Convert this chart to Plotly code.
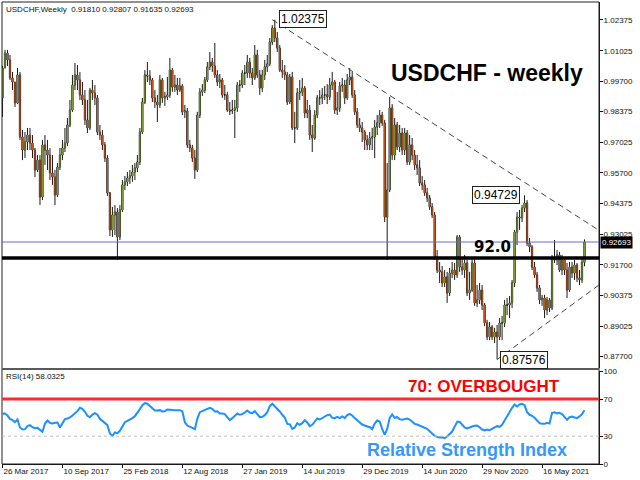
import pandas as pd
import plotly.graph_objects as go

# ---------------- data (weekly USDCHF) ----------------
first_open = 0.9897

close = [
    1.0027, 1.0092, 1.0062, 0.9984, 0.9966, 0.9875, 0.9997, 0.9727, 0.9670, 0.9705,
    0.9735, 0.9700, 0.9670, 0.9583, 0.9626, 0.9465, 0.9692, 0.9670, 0.9648, 0.9570,
    0.9552, 0.9474, 0.9596, 0.9648, 0.9679, 0.9700, 0.9779, 0.9844, 0.9953, 0.9997,
    0.9975, 0.9910, 0.9888, 0.9801, 0.9766, 0.9931, 0.9918, 0.9897, 0.9748, 0.9735,
    0.9692, 0.9635, 0.9483, 0.9322, 0.9387, 0.9400, 0.9291, 0.9409, 0.9518,
    0.9531, 0.9548, 0.9557, 0.9574, 0.9592, 0.9618, 0.9748, 0.9879, 0.9997, 0.9992,
    0.9975, 0.9897, 0.9879, 0.9866, 0.9975, 0.9897, 0.9901, 0.9910, 1.0018, 0.9944,
    0.9953, 0.9931, 0.9949, 0.9836, 0.9840, 0.9692, 0.9679, 0.9635, 0.9583, 0.9822,
    0.9923, 0.9931, 0.9975, 1.0032, 1.0053, 1.0036, 0.9997, 0.9966, 0.9975, 0.9910,
    0.9910, 0.9844, 0.9840, 0.9844, 0.9853, 0.9953, 0.9953, 1.0005,
    1.0005, 1.0053, 1.0005, 0.9984, 1.0084, 0.9997, 0.9940, 0.9997, 1.0032, 1.0045,
    1.0140, 1.0201, 1.0158, 1.0114, 1.0018, 1.0010, 0.9997, 0.9879, 0.9988, 0.9766,
    0.9766, 0.9918, 0.9923, 0.9940, 0.9831, 0.9844, 0.9735, 0.9722, 0.9822, 0.9897,
    0.9897, 0.9910, 0.9910, 0.9901, 0.9953, 0.9966, 0.9844, 0.9853, 0.9949, 0.9953,
    0.9897, 0.9975, 0.9988, 0.9910, 0.9836, 0.9779, 0.9766,
    0.9748, 0.9714, 0.9692, 0.9722, 0.9727, 0.9770, 0.9788, 0.9822, 0.9788, 0.9378,
    0.9496, 0.9853, 0.9648, 0.9779, 0.9683, 0.9744, 0.9670, 0.9744, 0.9618, 0.9692,
    0.9648, 0.9605, 0.9592, 0.9526, 0.9518, 0.9483, 0.9461, 0.9422, 0.9387, 0.9204,
    0.9147, 0.9139, 0.9091, 0.9117, 0.9047, 0.9134, 0.9147, 0.9126, 0.9291, 0.9160,
    0.9147, 0.9178, 0.9047, 0.9060, 0.9178, 0.9004, 0.9017, 0.9060, 0.8995,
    0.8917, 0.8856, 0.8899, 0.8856, 0.8877, 0.8856, 0.8917, 0.8917, 0.8995, 0.8995,
    0.9004, 0.9091, 0.9313, 0.9378, 0.9374, 0.9417, 0.9439, 0.9265, 0.9248, 0.9160,
    0.9126, 0.9069, 0.9017, 0.9025, 0.8973, 0.9017, 0.8982, 0.9200, 0.9191, 0.9213,
    0.9147, 0.9191, 0.9147, 0.9060, 0.9160, 0.9134, 0.9169, 0.9113, 0.9104, 0.9181,
    0.92693,
]

high = [
    1.0036, 1.0106, 1.0106, 1.0084, 1.0010, 0.9966, 1.0027, 1.0010, 0.9757, 0.9748,
    0.9766, 0.9766, 0.9735, 0.9679, 0.9648, 0.9648, 0.9714, 0.9735, 0.9714, 0.9679,
    0.9648, 0.9583, 0.9613, 0.9679, 0.9714, 0.9766, 0.9809, 0.9888, 0.9997, 1.0049,
    1.0040, 1.0010, 0.9966, 0.9931, 0.9888, 0.9940, 0.9975, 0.9953, 0.9910, 0.9779,
    0.9757, 0.9705, 0.9648, 0.9487, 0.9422, 0.9430, 0.9417, 0.9430, 0.9539,
    0.9557, 0.9574, 0.9583, 0.9605, 0.9613, 0.9648, 0.9766, 0.9897, 1.0018, 1.0053,
    1.0018, 0.9984, 0.9931, 0.9910, 0.9997, 0.9984, 0.9923, 0.9988, 1.0071, 1.0027,
    0.9997, 0.9984, 0.9984, 0.9957, 0.9866, 0.9853, 0.9714, 0.9692, 0.9670, 0.9836,
    0.9940, 0.9957, 0.9988, 1.0053, 1.0097, 1.0071, 1.0136, 1.0018, 1.0001, 0.9984,
    0.9953, 0.9923, 0.9879, 0.9888, 0.9888, 0.9966, 0.9975, 1.0018,
    1.0040, 1.0084, 1.0071, 1.0027, 1.0127, 1.0106, 1.0018, 1.0018, 1.0062, 1.0084,
    1.0158, 1.0214, 1.02375, 1.0184, 1.0127, 1.0062, 1.0040, 1.0010, 1.0001, 1.0010,
    0.9836, 0.9940, 0.9975, 0.9984, 0.9949, 0.9888, 0.9866, 0.9779, 0.9844, 0.9910,
    0.9931, 0.9940, 0.9949, 0.9957, 0.9984, 1.0010, 0.9975, 0.9923, 0.9966, 0.9984,
    0.9975, 1.0001, 1.0027, 1.0010, 0.9931, 0.9853, 0.9809,
    0.9792, 0.9757, 0.9735, 0.9748, 0.9766, 0.9801, 0.9822, 0.9844, 0.9836, 0.9801,
    0.9613, 0.9901, 0.9870, 0.9809, 0.9792, 0.9779, 0.9766, 0.9766, 0.9757, 0.9735,
    0.9722, 0.9670, 0.9648, 0.9626, 0.9557, 0.9539, 0.9505, 0.9474, 0.9439, 0.9400,
    0.9234, 0.9182, 0.9165, 0.9147, 0.9139, 0.9156, 0.9182, 0.9178, 0.9300, 0.9300,
    0.9204, 0.9213, 0.9200, 0.9139, 0.9204, 0.9200, 0.9082, 0.9091, 0.9082,
    0.9004, 0.8930, 0.8921, 0.8908, 0.8895, 0.8908, 0.8938, 0.8947, 0.9017, 0.9025,
    0.9034, 0.9104, 0.9322, 0.9400, 0.9409, 0.9430, 0.94729, 0.9452, 0.9287, 0.9256,
    0.9182, 0.9139, 0.9082, 0.9039, 0.9039, 0.9030, 0.9025, 0.9213, 0.9278, 0.9234,
    0.9226, 0.9213, 0.9200, 0.9178, 0.9182, 0.9182, 0.9191, 0.9178, 0.9147, 0.9200,
    0.92807,
]

low = [
    0.9814, 1.0027, 1.0036, 0.9975, 0.9931, 0.9857, 0.9870, 0.9714, 0.9626, 0.9635,
    0.9670, 0.9670, 0.9635, 0.9552, 0.9574, 0.9430, 0.9452, 0.9605, 0.9583, 0.9539,
    0.9518, 0.9430, 0.9465, 0.9583, 0.9626, 0.9661, 0.9687, 0.9770, 0.9836, 0.9931,
    0.9931, 0.9888, 0.9866, 0.9779, 0.9744, 0.9757, 0.9888, 0.9866, 0.9735, 0.9714,
    0.9670, 0.9618, 0.9470, 0.9295, 0.9291, 0.9300, 0.9191, 0.9278, 0.9400,
    0.9496, 0.9513, 0.9522, 0.9531, 0.9539, 0.9574, 0.9605, 0.9740, 0.9870, 0.9966,
    0.9953, 0.9879, 0.9853, 0.9792, 0.9853, 0.9875, 0.9862, 0.9888, 0.9897, 0.9923,
    0.9923, 0.9910, 0.9923, 0.9822, 0.9809, 0.9679, 0.9661, 0.9618, 0.9544, 0.9574,
    0.9809, 0.9905, 0.9918, 0.9966, 1.0018, 1.0010, 0.9984, 0.9949, 0.9940, 0.9897,
    0.9888, 0.9836, 0.9822, 0.9827, 0.9722, 0.9836, 0.9923, 0.9940,
    0.9953, 0.9984, 0.9984, 0.9953, 0.9975, 0.9984, 0.9910, 0.9923, 0.9975, 1.0010,
    1.0036, 1.0127, 1.0140, 1.0097, 1.0010, 0.9984, 0.9975, 0.9866, 0.9870, 0.9757,
    0.9700, 0.9757, 0.9888, 0.9905, 0.9809, 0.9809, 0.9714, 0.9661, 0.9714, 0.9809,
    0.9866, 0.9870, 0.9888, 0.9870, 0.9888, 0.9931, 0.9827, 0.9822, 0.9836, 0.9923,
    0.9870, 0.9888, 0.9953, 0.9897, 0.9822, 0.9766, 0.9748,
    0.9705, 0.9670, 0.9670, 0.9670, 0.9670, 0.9635, 0.9735, 0.9766, 0.9775, 0.9356,
    0.9191, 0.9487, 0.9626, 0.9626, 0.9670, 0.9661, 0.9648, 0.9648, 0.9605, 0.9605,
    0.9626, 0.9583, 0.9561, 0.9513, 0.9496, 0.9470, 0.9444, 0.9409, 0.9374, 0.9191,
    0.9134, 0.9091, 0.9073, 0.9073, 0.9004, 0.9034, 0.9113, 0.9104, 0.9113, 0.9139,
    0.9126, 0.9113, 0.9034, 0.9017, 0.9052, 0.8991, 0.8986, 0.8999, 0.8973,
    0.8903, 0.8842, 0.8842, 0.8842, 0.8829, 0.87576, 0.8842, 0.8842, 0.8899, 0.8951,
    0.8938, 0.8982, 0.9073, 0.9256, 0.9322, 0.9356, 0.9400, 0.9252, 0.9226, 0.9147,
    0.9113, 0.9052, 0.8999, 0.8991, 0.8938, 0.8951, 0.8964, 0.8973, 0.9178, 0.9169,
    0.9139, 0.9126, 0.9126, 0.9025, 0.9052, 0.9113, 0.9104, 0.9095, 0.9082, 0.9091,
    0.91635,
]

rsi = [
    54.1, 54.5, 52.3, 48.7, 47.3, 45.1, 48.0, 39.4, 37.2, 37.6,
    40.8, 41.9, 39.7, 38.6, 39.0, 36.8, 34.7, 43.7, 46.9, 44.4,
    43.7, 44.4, 44.8, 39.4, 43.7, 48.4, 49.1, 50.2, 52.3, 54.5,
    57.0, 60.6, 59.5, 56.3, 52.0, 50.5, 53.4, 54.9, 53.1, 48.7,
    46.6, 44.4, 41.9, 32.9, 30.4, 34.0, 33.2, 35.8, 41.2, 45.1,
    46.6, 47.7, 49.5, 51.6, 54.9, 59.2, 63.5, 65.7, 65.0, 62.4,
    59.5, 57.7, 57.7, 58.1, 56.7, 57.0, 58.8, 58.5, 57.7, 58.1,
    58.1, 58.1, 56.7, 45.1, 41.5, 40.5, 39.0, 37.6, 48.7, 55.9,
    57.0, 57.7, 59.2, 60.6, 59.5, 56.7, 57.0, 54.5, 54.5, 53.8,
    50.2, 47.3, 49.5, 52.0, 54.5, 53.1, 53.8, 55.6, 57.7, 55.6,
    54.9, 57.0, 53.4, 50.5, 50.9, 52.7, 55.9, 62.4, 65.0, 62.4,
    59.5, 56.7, 53.1, 50.2, 43.3, 43.0, 37.9, 39.4, 44.1, 42.3,
    44.1, 47.3, 44.8, 40.8, 42.3, 45.9, 49.1, 48.0, 49.8, 51.6,
    52.7, 53.4, 49.8, 49.5, 50.9, 49.5, 51.3, 49.5, 52.7, 54.1,
    52.3, 49.5, 46.9, 44.1, 42.6, 41.5, 40.8, 39.7, 37.6, 43.7,
    46.9, 45.9, 37.9, 31.4, 37.9, 49.8, 53.4, 49.8, 50.5, 48.4,
    47.7, 48.0, 49.1, 48.0, 45.5, 43.3, 42.6, 41.2, 40.1, 39.0,
    37.9, 35.4, 32.5, 30.4, 29.3, 28.6, 28.9, 27.8, 29.6, 32.5,
    35.0, 40.1, 45.5, 45.5, 42.6, 39.4, 38.3, 39.7, 40.5, 41.2,
    41.5, 39.7, 37.2, 36.1, 37.2, 36.5, 37.6, 39.4, 40.8, 40.1,
    42.3, 47.3, 51.6, 55.6, 60.6, 64.2, 62.1, 64.2, 65.0, 63.5,
    55.9, 53.1, 52.0, 49.8, 46.9, 44.1, 43.3, 43.3, 44.4, 43.7,
    55.2, 55.9, 54.5, 55.2, 53.8, 50.9, 47.7, 50.5, 51.3, 50.2,
    49.5, 51.3, 53.8, 58.0325,
]

first_week = "2017-03-26"
date_ticks = ["2017-03-26", "2017-09-10", "2018-02-25", "2018-08-12", "2019-01-27",
              "2019-07-14", "2019-12-29", "2020-06-14", "2020-11-29", "2021-05-16"]
date_labels = ["26 Mar 2017", "10 Sep 2017", "25 Feb 2018", "12 Aug 2018", "27 Jan 2019",
               "14 Jul 2019", "29 Dec 2019", "14 Jun 2020", "29 Nov 2020", "16 May 2021"]
price_ticks = [1.02375, 1.01025, 0.99700, 0.98375, 0.97025, 0.95700, 0.94375,
               0.93025, 0.91700, 0.90375, 0.89025, 0.87700]
rsi_ticks = [0, 30, 70, 100]

support_level = 0.92
current_price = 0.92693
upper_trend_dates = ["2019-04-21", "2021-10-22 14:00"]
upper_trend_prices = [1.02375, 0.9320]
lower_trend_dates = ["2021-01-10", "2021-10-22 14:00"]
lower_trend_prices = [0.87576, 0.9082]

# ---------------- figure ----------------
dates = pd.date_range(first_week, periods=len(close), freq="7D")
opens = [first_open] + close[:-1]
body_hi = [max(o, c) for o, c in zip(opens, close)]
body_lo = [min(o, c) for o, c in zip(opens, close)]

FONT = "Liberation Sans, Arial, sans-serif"
fig = go.Figure()

# wicks (black)
fig.add_trace(go.Candlestick(
    x=dates, open=opens, high=high, low=low, close=close, xaxis="x2", yaxis="y",
    increasing=dict(line=dict(color="#1a1a1a", width=1), fillcolor="#1a1a1a"),
    decreasing=dict(line=dict(color="#1a1a1a", width=1), fillcolor="#1a1a1a"),
    whiskerwidth=0, showlegend=False, hoverinfo="skip"))
# coloured bodies
fig.add_trace(go.Candlestick(
    x=dates, open=opens, high=body_hi, low=body_lo, close=close, xaxis="x2", yaxis="y",
    increasing=dict(line=dict(color="#7a9a2e", width=0), fillcolor="#7a9a2e"),
    decreasing=dict(line=dict(color="#c4521c", width=0), fillcolor="#c4521c"),
    whiskerwidth=0, showlegend=False, hoverinfo="skip"))

# trend lines
fig.add_trace(go.Scatter(x=upper_trend_dates, y=upper_trend_prices, mode="lines",
                         xaxis="x2", yaxis="y", showlegend=False, hoverinfo="skip",
                         line=dict(color="#444444", width=1, dash="6px,4px")))
fig.add_trace(go.Scatter(x=lower_trend_dates, y=lower_trend_prices, mode="lines",
                         xaxis="x2", yaxis="y", showlegend=False, hoverinfo="skip",
                         line=dict(color="#444444", width=1, dash="6px,4px")))

# RSI
fig.add_trace(go.Scatter(x=dates, y=rsi, mode="lines", xaxis="x", yaxis="y2",
                         showlegend=False, hoverinfo="skip",
                         line=dict(color="#1e90ff", width=2)))

x_start = pd.Timestamp(first_week) - pd.Timedelta(days=1.4)
x_end = pd.Timestamp(first_week) + pd.Timedelta(weeks=238.8)

axis_font = dict(family=FONT, size=8, color="#111111")
fig.update_layout(
    template="none",
    width=640, height=480, autosize=False,
    margin=dict(l=2, r=41, t=2, b=16, pad=0),
    paper_bgcolor="white", plot_bgcolor="white",
    hovermode=False, showlegend=False,
    xaxis=dict(domain=[0, 1], anchor="y2", type="date", range=[x_start, x_end],
               tickvals=date_ticks, ticktext=date_labels, ticks="outside", ticklen=3,
               tickcolor="#111111", ticklabelposition="outside right",
               ticklabelstandoff=-1, automargin=False,
               tickfont=axis_font, showline=True, linecolor="#111111", linewidth=1,
               showgrid=False, zeroline=False, rangeslider=dict(visible=False)),
    xaxis2=dict(matches="x", anchor="y", type="date", showticklabels=False,
                showgrid=False, zeroline=False, showline=False, ticks="",
                automargin=False, rangeslider=dict(visible=False)),
    yaxis=dict(domain=[0.2078, 1], range=[0.87205, 1.03146], side="right",
               tickvals=price_ticks, tickformat=".5f", ticks="outside", ticklen=3,
               ticklabelstandoff=-1, automargin=False,
               tickcolor="#111111", tickfont=axis_font, showline=True,
               linecolor="#111111", linewidth=1, showgrid=False, zeroline=False),
    yaxis2=dict(domain=[0, 0.2006], range=[0, 100], side="right", tickvals=rsi_ticks,
                ticks="outside", ticklen=3, ticklabelstandoff=-1, automargin=False,
                tickcolor="#111111", tickfont=axis_font,
                showline=True, linecolor="#111111", linewidth=1, showgrid=False,
                zeroline=False),
)

shapes = [
    # frame
    dict(type="rect", xref="paper", yref="paper", x0=0, x1=1, y0=0, y1=1,
         line=dict(color="#222222", width=1)),
    # pane separator
    dict(type="line", xref="paper", yref="paper", x0=0, x1=1, y0=0.2056, y1=0.2056,
         line=dict(color="#5a5a5a", width=2)),
    # current price line
    dict(type="line", xref="paper", yref="y", x0=0, x1=1, y0=current_price,
         y1=current_price, line=dict(color="#6a6ad8", width=1)),
    # 92.0 support line
    dict(type="line", xref="paper", yref="y", x0=0, x1=1, y0=support_level,
         y1=support_level, line=dict(color="black", width=3.5)),
    # RSI levels
    dict(type="line", xref="paper", yref="y2", x0=0, x1=1, y0=30, y1=30,
         line=dict(color="#c0c0c0", width=1, dash="3px,3px")),
    dict(type="line", xref="paper", yref="y2", x0=0, x1=1, y0=70, y1=70,
         line=dict(color="#ff2a2a", width=3)),
]
fig.update_layout(shapes=shapes)

i_top = high.index(max(high))
i_low = low.index(min(low))
i_mid = max(range(i_low, len(high)), key=lambda i: high[i])

box = dict(showarrow=False, bordercolor="#222222", borderwidth=1, borderpad=1,
           bgcolor="white", font=dict(family=FONT, size=12, color="black"))
annotations = [
    dict(x=dates[i_top], y=high[i_top], xref="x2", yref="y", text=f"{high[i_top]:.5f}",
         xanchor="left", yanchor="middle", xshift=4, yshift=1, **box),
    dict(x=dates[i_mid], y=high[i_mid], xref="x2", yref="y", text=f"{high[i_mid]:.5f}",
         xanchor="right", yanchor="middle", xshift=-5, **box),
    dict(x=dates[i_low], y=low[i_low], xref="x2", yref="y", text=f"{low[i_low]:.5f}",
         xanchor="left", yanchor="middle", xshift=3, yshift=-1, **box),
    dict(x=1, y=current_price, xref="paper", yref="y", text=f"{current_price:.5f}",
         xanchor="left", yanchor="middle", xshift=1, showarrow=False, bgcolor="black",
         borderpad=1, font=dict(family=FONT, size=8, color="white")),
    dict(x=0, y=1, xref="paper", yref="paper", xanchor="left", yanchor="top",
         xshift=2, yshift=-1, showarrow=False,
         text="USDCHF,Weekly\u00a0\u00a00.91810 0.92807 0.91635 0.92693",
         font=dict(family=FONT, size=8, color="#111111")),
    dict(x=0, y=0.1894, xref="paper", yref="paper", xanchor="left", yanchor="middle",
         xshift=2, showarrow=False, text="RSI(14) 58.0325",
         font=dict(family=FONT, size=8, color="#111111")),
    dict(x=0.8132, y=0.8457, xref="paper", yref="paper", xanchor="center",
         yanchor="middle", showarrow=False, text="<b>USDCHF - weekly</b>",
         font=dict(family=FONT, size=23, color="black")),
    dict(x=0.8208, y=support_level, xref="paper", yref="y", xanchor="center",
         yanchor="bottom", showarrow=False, text="<b>92.0</b>",
         font=dict(family="DejaVu Sans", size=15, color="black")),
    dict(x=0.8074, y=70, xref="paper", yref="y2", xanchor="center", yanchor="bottom",
         yshift=1, showarrow=False, text="<b>70: OVERBOUGHT</b>",
         font=dict(family=FONT, size=17, color="#ff0000")),
    dict(x=0.7797, y=0.0303, xref="paper", yref="paper", xanchor="center",
         yanchor="middle", showarrow=False, text="<b>Relative Strength Index</b>",
         font=dict(family=FONT, size=18, color="#3399ff")),
]
fig.update_layout(annotations=annotations)

fig.write_html("out.html", config={"displayModeBar": False},
               post_script="document.body.style.margin='0px';")
